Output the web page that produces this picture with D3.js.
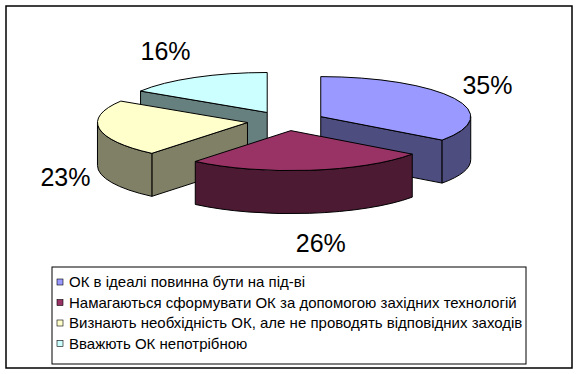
<!DOCTYPE html>
<html>
<head>
<meta charset="utf-8">
<script src="https://cdn.jsdelivr.net/npm/d3@7"></script>
<style>
  body { margin: 0; background: #fff; }
  text { font-family: Arial, "Liberation Sans", sans-serif; fill: #000; }
</style>
</head>
<body>
<div id="chart"></div>
<script>
const categories = [
  "ОК в ідеалі повинна бути на під-ві",
  "Намагаються сформувати ОК за допомогою західних технологій",
  "Визнають необхідність ОК, але не проводять відповідних заходів",
  "Вважють ОК непотрібною"
];
const values = [35, 26, 23, 16];

const topColors = ["#9999ff", "#993366", "#ffffcc", "#ccffff"];
const sideColors = ["#4d4d80", "#4d1a33", "#808066", "#668080"];

let width = 578;
let height = 374;

// pie geometry (3d tilt is just an ellipse + a thickness)
let cx = 286, cy = 121;
let rx = 150, ry = 40, depth = 43;
let explode = 39, explodeY = 9.7;

let svg = d3.select("#chart")
  .append("svg")
  .attr("width", width)
  .attr("height", height);

// outer frame
svg.append("rect")
  .attr("x", 6).attr("y", 6)
  .attr("width", 566).attr("height", 362)
  .attr("fill", "#fff")
  .attr("stroke", "#000")
  .attr("stroke-width", 1.5);

let total = d3.sum(values);
let pie = d3.pie().sort(null).value(d => d);
let arcs = pie(values).map((a, i) => {
  let mid = (a.startAngle + a.endAngle) / 2;
  return {
    i: i,
    a0: a.startAngle,
    a1: a.endAngle,
    mid: mid,
    x: cx + explode * Math.sin(mid),
    y: cy - explodeY * Math.cos(mid)
  };
});

function pt(s, t, dz) {
  return [s.x + rx * Math.sin(t), s.y - ry * Math.cos(t) + (dz || 0)];
}

function radialFace(s, t) {
  let p = pt(s, t, 0), q = pt(s, t, depth);
  return `M${s.x},${s.y}L${p}L${q}L${s.x},${s.y + depth}Z`;
}

function wall(s, t0, t1) {
  let p0 = pt(s, t0, 0), p1 = pt(s, t1, 0);
  let q0 = pt(s, t0, depth), q1 = pt(s, t1, depth);
  return `M${p0}A${rx},${ry} 0 0 1 ${p1}L${q1}A${rx},${ry} 0 0 0 ${q0}Z`;
}

function topFace(s) {
  let p0 = pt(s, s.a0, 0), p1 = pt(s, s.a1, 0);
  let large = s.a1 - s.a0 > Math.PI ? 1 : 0;
  return `M${s.x},${s.y}L${p0}A${rx},${ry} 0 ${large} 1 ${p1}Z`;
}

let pieG = svg.append("g")
  .attr("stroke", "#000")
  .attr("stroke-width", 1)
  .attr("stroke-linejoin", "round");

// back slices first
arcs.slice().sort((a, b) => a.y - b.y).forEach(s => {
  let g = pieG.append("g");
  // radial faces that look towards the viewer
  [[s.a0, s.a0 - Math.PI / 2], [s.a1, s.a1 + Math.PI / 2]].forEach(([t, n]) => {
    if (Math.cos(n) < -1e-6) {
      g.append("path").attr("d", radialFace(s, t)).attr("fill", sideColors[s.i]);
    }
  });
  let t0 = Math.max(s.a0, Math.PI / 2), t1 = Math.min(s.a1, Math.PI * 1.5);
  if (t1 > t0) {
    g.append("path").attr("d", wall(s, t0, t1)).attr("fill", sideColors[s.i]);
  }
  g.append("path").attr("d", topFace(s)).attr("fill", topColors[s.i]);
});

// percentage labels, hung just outside each slice
let pct = d3.format(".0%");
let labelGap = 9;
svg.append("g")
  .selectAll("text")
  .data(arcs)
  .enter()
  .append("text")
  .attr("x", d => d.x + (rx + labelGap) * Math.sin(d.mid))
  .attr("y", d => cy - 80 * Math.cos(d.mid) + (Math.cos(d.mid) < 0 ? depth : 0))
  .attr("text-anchor", d => {
    let s = Math.sin(d.mid);
    return s > 0.3 ? "start" : s < -0.3 ? "end" : "middle";
  })
  .attr("dx", d => Math.abs(Math.sin(d.mid)) <= 0.3 ? 10 : 0)
  .attr("dy", "0.36em")
  .style("font-size", "25px")
  .text(d => pct(values[d.i] / total));

// legend
let legend = svg.append("g");
legend.append("rect")
  .attr("x", 52).attr("y", 267)
  .attr("width", 474).attr("height", 97)
  .attr("fill", "#fff")
  .attr("stroke", "#000")
  .attr("stroke-width", 1);

let rows = legend.selectAll(".row")
  .data(categories)
  .enter()
  .append("g")
  .attr("transform", (d, i) => `translate(0, ${282 + i * 20.5})`);

rows.append("rect")
  .attr("x", 57).attr("y", -3)
  .attr("width", 6).attr("height", 6)
  .attr("fill", (d, i) => topColors[i])
  .attr("stroke", "#000")
  .attr("stroke-width", 0.6);

rows.append("text")
  .attr("x", 69)
  .attr("dy", "0.36em")
  .style("font-size", "15px")
  .text(d => d);
</script>
</body>
</html>
